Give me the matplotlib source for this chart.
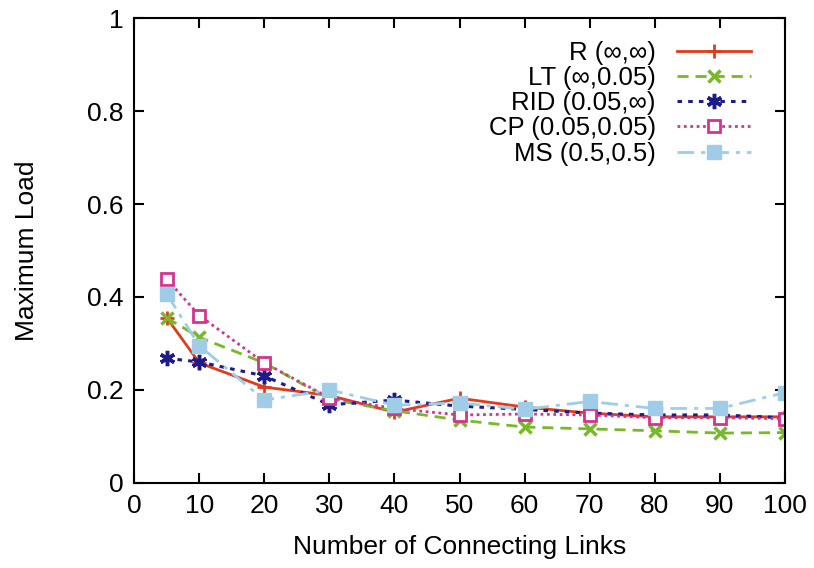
import matplotlib
matplotlib.use('Agg')
import matplotlib.pyplot as plt

x = [5, 10, 20, 30, 40, 50, 60, 70, 80, 90, 100]

r_vals = [0.355, 0.258, 0.206, 0.188, 0.152, 0.182, 0.163, 0.150, 0.142, 0.142, 0.142]
lt_vals = [0.355, 0.313, 0.258, 0.180, 0.155, 0.135, 0.120, 0.116, 0.112, 0.107, 0.108]
rid_vals = [0.268, 0.260, 0.230, 0.168, 0.178, 0.165, 0.158, 0.150, 0.146, 0.146, 0.140]
cp_vals = [0.438, 0.360, 0.258, 0.183, 0.160, 0.146, 0.148, 0.146, 0.140, 0.140, 0.138]
ms_vals = [0.406, 0.295, 0.178, 0.200, 0.167, 0.172, 0.158, 0.175, 0.160, 0.160, 0.194]

labels = ['R (\u221e,\u221e)', 'LT (\u221e,0.05)', 'RID (0.05,\u221e)',
          'CP (0.05,0.05)', 'MS (0.5,0.5)']

plt.rcParams['font.family'] = ['Liberation Sans', 'DejaVu Sans']
plt.rcParams['font.size'] = 19

fig = plt.figure(figsize=(8.14, 5.68), dpi=100)
ax = fig.add_axes([0.165, 0.15, 0.799, 0.818])

ax.plot(x, r_vals, color='#e23b1a', linestyle='-', linewidth=2, marker='+',
        markersize=10, markeredgewidth=2, label=labels[0])
ax.plot(x, lt_vals, color='#78b82a', linestyle=(0, (4, 2.5)), linewidth=2, marker='x',
        markersize=8, markeredgewidth=2.5, label=labels[1])
ax.plot(x, rid_vals, color='#1c1c8a', linestyle=(0, (1.5, 2)), linewidth=2.2, marker=(6, 2, 0),
        markersize=11, markeredgewidth=2.5, label=labels[2])
ax.plot(x, cp_vals, color='#d4338e', linestyle=(0, (1, 1.3)), linewidth=2, marker='s',
        markersize=9, markerfacecolor='white', markeredgewidth=2, label=labels[3])
ax.plot(x, ms_vals, color='#9fcde8', linestyle=(0, (6, 2.5, 1.5, 2.5)), linewidth=2, marker='s',
        markersize=10, label=labels[4])

ax.set_xlim(0, 100)
ax.set_ylim(0, 1)
ax.set_xticks(range(0, 101, 10))
ax.set_yticks([0, 0.2, 0.4, 0.6, 0.8, 1.0])
ax.set_yticklabels(['0', '0.2', '0.4', '0.6', '0.8', '1'])
ax.tick_params(direction='in', top=True, right=True, length=7, width=1.5, pad=8)
for s in ax.spines.values():
    s.set_linewidth(1.5)

ax.set_xlabel('Number of Connecting Links', labelpad=12)
ax.set_ylabel('Maximum Load', labelpad=34)

ax.legend(loc='upper right', bbox_to_anchor=(0.972, 0.985), frameon=False, markerfirst=False,
          handlelength=2.9, labelspacing=0.05, handletextpad=0.8, borderaxespad=0.2,
          fontsize=18.5)

fig.savefig('out.png', dpi=100)
